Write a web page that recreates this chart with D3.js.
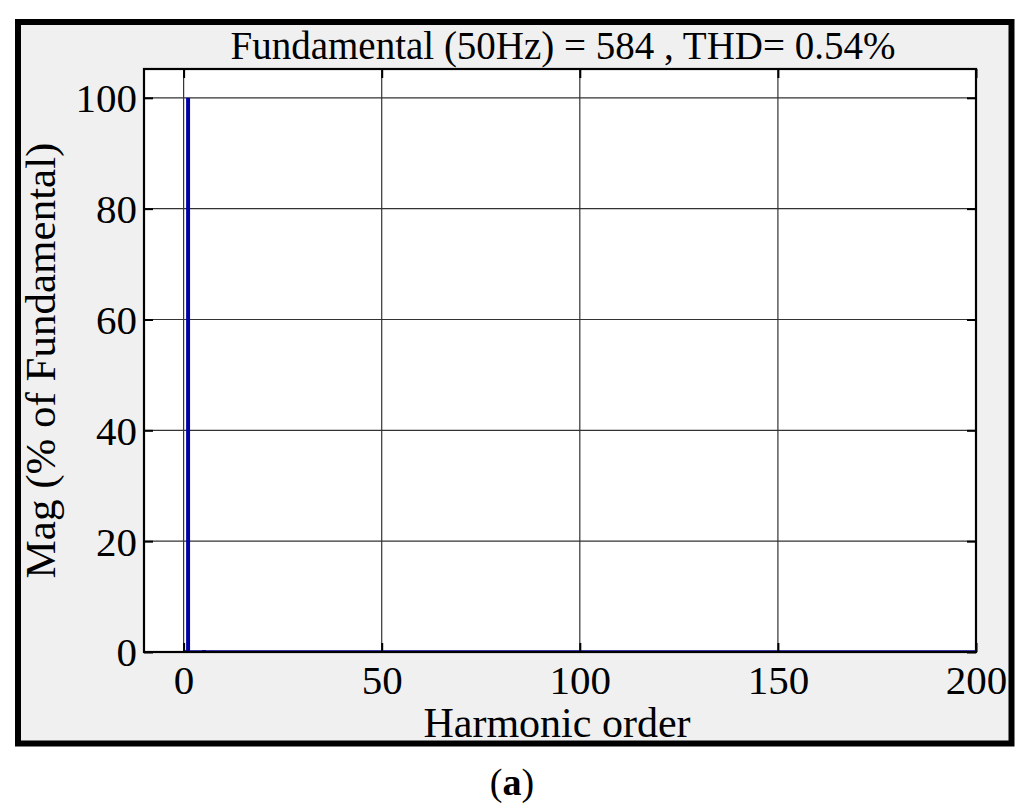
<!DOCTYPE html>
<html>
<head>
<meta charset="utf-8">
<script src="https://cdn.jsdelivr.net/npm/d3@7"></script>
<style>
  html, body { margin: 0; padding: 0; background: #ffffff; }
  svg { display: block; }
  text { font-family: "Liberation Serif", "Times New Roman", serif; fill: #000; }
</style>
</head>
<body>
<svg id="chart" width="1024" height="809"></svg>
<script>
// ---- data ----
const harmonicOrders = [1, 5, 7, 11, 13];
const magnitudes = [100, 0.35, 0.2, 0.12, 0.1];
const xTicks = [0, 50, 100, 150, 200];
const yTicks = [0, 20, 40, 60, 80, 100];
const xDomain = [-10, 200];
const yDomain = [0, 105.2];
const titleText = "Fundamental (50Hz) = 584 , THD= 0.54%";
const xLabel = "Harmonic order";
const yLabel = "Mag (% of Fundamental)";
const caption = "a";

// ---- layout ----
const svg = d3.select("#chart");
const plot = { left: 144, right: 976, top: 69, bottom: 652 };

// figure frame
svg.append("rect")
  .attr("x", 18).attr("y", 22).attr("width", 993.5).attr("height", 721.5)
  .attr("fill", "#f0f0f0").attr("stroke", "#000").attr("stroke-width", 6);

const x = d3.scaleLinear().domain(xDomain).range([plot.left, plot.right]);
const y = d3.scaleLinear().domain(yDomain).range([plot.bottom, plot.top]);

// plot background
svg.append("rect")
  .attr("x", plot.left).attr("y", plot.top)
  .attr("width", plot.right - plot.left).attr("height", plot.bottom - plot.top)
  .attr("fill", "#ffffff");

// grid
const grid = svg.append("g").attr("stroke", "#333333").attr("stroke-width", 1.2);
grid.selectAll("line.gx").data(xTicks.filter(t => x(t) < plot.right - 1)).enter().append("line")
  .attr("x1", d => x(d)).attr("x2", d => x(d))
  .attr("y1", plot.top).attr("y2", plot.bottom);
grid.selectAll("line.gy").data(yTicks.filter(t => y(t) > plot.top + 1 && y(t) < plot.bottom - 1)).enter().append("line")
  .attr("x1", plot.left).attr("x2", plot.right)
  .attr("y1", d => y(d)).attr("y2", d => y(d));

// bars
const barW = x(1) - x(0);
svg.append("g").selectAll("rect").data(harmonicOrders).enter().append("rect")
  .attr("x", (d) => x(d) - barW / 2 + 0.5)
  .attr("width", barW)
  .attr("y", (d, i) => y(magnitudes[i]))
  .attr("height", (d, i) => Math.max(1, y(0) - y(magnitudes[i])))
  .attr("fill", "#0000a8");

// baseline
svg.append("line")
  .attr("x1", x(0)).attr("x2", x(200))
  .attr("y1", y(0) - 1).attr("y2", y(0) - 1)
  .attr("stroke", "#0000a0").attr("stroke-width", 1.5);

// axes (ticks inward on all sides)
const tickLen = 9;
const axB = svg.append("g").attr("transform", `translate(0,${plot.bottom})`)
  .call(d3.axisBottom(x).tickValues(xTicks).tickSizeInner(-tickLen).tickSizeOuter(0).tickPadding(13));
const axT = svg.append("g").attr("transform", `translate(0,${plot.top})`)
  .call(d3.axisTop(x).tickValues(xTicks).tickSizeInner(-tickLen).tickSizeOuter(0).tickFormat(""));
const axL = svg.append("g").attr("transform", `translate(${plot.left},0)`)
  .call(d3.axisLeft(y).tickValues(yTicks).tickSizeInner(-tickLen).tickSizeOuter(0).tickPadding(7));
const axR = svg.append("g").attr("transform", `translate(${plot.right},0)`)
  .call(d3.axisRight(y).tickValues(yTicks).tickSizeInner(-tickLen).tickSizeOuter(0).tickFormat(""));
[axB, axT, axL, axR].forEach(a => {
  a.select(".domain").remove();
  a.selectAll(".tick line").attr("stroke", "#000").attr("stroke-width", 2);
  a.selectAll(".tick text").attr("font-family", "Liberation Serif, Times New Roman, serif")
    .attr("font-size", 41).attr("fill", "#000");
});
axB.selectAll(".tick text").attr("dy", "0.71em");
axL.selectAll(".tick text").attr("dy", "0.34em");

// plot box
svg.append("rect")
  .attr("x", plot.left).attr("y", plot.top)
  .attr("width", plot.right - plot.left).attr("height", plot.bottom - plot.top)
  .attr("fill", "none").attr("stroke", "#000").attr("stroke-width", 2.2);

// title
svg.append("text")
  .attr("x", 563).attr("y", 59)
  .attr("text-anchor", "middle").attr("font-size", 39)
  .text(titleText);

// x label
svg.append("text")
  .attr("x", 557).attr("y", 737)
  .attr("text-anchor", "middle").attr("font-size", 42)
  .text(xLabel);

// y label
svg.append("text")
  .attr("transform", `translate(55,${(plot.top + plot.bottom) / 2}) rotate(-90)`)
  .attr("text-anchor", "middle").attr("font-size", 43)
  .text(yLabel);

// caption
const cap = svg.append("text")
  .attr("x", 512).attr("y", 795)
  .attr("text-anchor", "middle").attr("font-size", 38);
cap.append("tspan").text("(");
cap.append("tspan").attr("font-weight", "bold").text(caption);
cap.append("tspan").text(")");
</script>
</body>
</html>
